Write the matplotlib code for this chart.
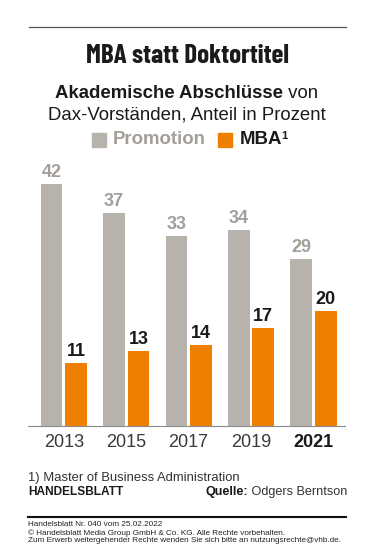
import numpy as np
import matplotlib.pyplot as plt

years = ['2013', '2015', '2017', '2019', '2021']
promotion = [42, 37, 33, 34, 29]
mba = [11, 13, 14, 17, 20]

GRAY = '#b7b2ab'
GRAY_TXT = '#a39e98'
ORANGE = '#ee7f00'
W, H = 375, 557
COND = ['Barlow Condensed', 'Roboto Condensed', 'Oswald', 'DejaVu Sans']

plt.rcParams['font.family'] = ['Liberation Sans', 'DejaVu Sans']

fig = plt.figure(figsize=(W / 100, H / 100), dpi=100)
fig.patch.set_facecolor('white')
r = fig.canvas.get_renderer()


def fx(x):
    return x / W


def fy(y):
    return 1 - y / H


def put(x, y, s, **kw):
    return fig.text(fx(x), fy(y), s, **kw)


def put_runs(x, y, runs, size=12):
    # several text pieces on one line, centred on x
    objs = []
    total = 0
    for s, kw in runs:
        t = fig.text(0, fy(y), s, va='center', ha='left', fontsize=size, **kw)
        objs.append(t)
        total += t.get_window_extent(r).width
    pos = x - total / 2
    for t in objs:
        t.set_x(fx(pos))
        pos += t.get_window_extent(r).width


# header
fig.add_artist(plt.Line2D([fx(29), fx(346)], [fy(27), fy(27)], color='#555555', lw=0.9))
put(187, 56, 'MBA statt Doktortitel', ha='center', va='center', fontsize=19.5,
    family=COND, weight='bold', color='#1a1a1a')
put_runs(187, 93, [('Akademische Abschlüsse', dict(weight='bold', color='#1a1a1a')),
                   (' von', dict(color='#1a1a1a'))], size=13.4)
put(187, 115, 'Dax-Vorständen, Anteil in Prozent', ha='center', va='center',
    fontsize=13.4, color='#1a1a1a')

# legend
fig.add_artist(plt.Rectangle((fx(92), fy(147)), 14 / W, 14 / H, color=GRAY))
put(113, 140, 'Promotion', va='center', fontsize=13.4, weight='bold', color=GRAY_TXT)
fig.add_artist(plt.Rectangle((fx(218), fy(147)), 14 / W, 14 / H, color=ORANGE))
m = put(240, 140, 'MBA', va='center', fontsize=13.4, weight='bold', color='#1a1a1a')
mw = m.get_window_extent(r).width
put(239 + mw, 136, '1', va='center', fontsize=8, weight='bold', color='#1a1a1a')

# bars
ax = fig.add_axes([fx(28), fy(426), (345 - 28) / W, (426 - 170) / H])
x = np.arange(len(years))
bw = 0.348
off = 0.196
ax.bar(x - off, promotion, bw, color=GRAY)
ax.bar(x + off, mba, bw, color=ORANGE)
for i in range(len(years)):
    ax.annotate(str(promotion[i]), (x[i] - off, promotion[i]), xytext=(0, 2),
                textcoords='offset points', ha='center', va='bottom',
                fontsize=13, weight='bold', color=GRAY_TXT)
    ax.annotate(str(mba[i]), (x[i] + off, mba[i]), xytext=(0, 2),
                textcoords='offset points', ha='center', va='bottom',
                fontsize=13, weight='bold', color='#1a1a1a')
ax.set_xlim(-0.574, 4.506)
ax.set_ylim(0, 256 / 5.77)
ax.set_xticks(x)
ax.set_xticklabels(years, fontsize=13, color='#3a3a3a')
ax.get_xticklabels()[-1].set_fontweight('bold')
ax.get_xticklabels()[-1].set_color('#1a1a1a')
ax.tick_params(axis='x', length=0, pad=6)
ax.set_yticks([])
for s in ['top', 'right', 'left']:
    ax.spines[s].set_visible(False)
ax.spines['bottom'].set_color('#8a8a8a')
ax.spines['bottom'].set_linewidth(0.8)
ax.set_facecolor('none')

# footer
put(28, 478, '1) Master of Business Administration', va='center', fontsize=9.4, color='#333333')
put(28, 492, 'HANDELSBLATT', va='center', fontsize=8.6, weight='bold', color='#1a1a1a')
q2 = put(347, 492, ' Odgers Berntson', ha='right', va='center', fontsize=9.1, color='#333333')
wq = q2.get_window_extent(r).width
put(347 - wq, 492, 'Quelle:', ha='right', va='center', fontsize=9.1, weight='bold', color='#1a1a1a')

fig.add_artist(plt.Line2D([fx(28), fx(346)], [fy(517), fy(517)], color='#111111', lw=1.5))
small = ['Handelsblatt Nr. 040 vom 25.02.2022',
         '© Handelsblatt Media Group GmbH & Co. KG. Alle Rechte vorbehalten.',
         'Zum Erwerb weitergehender Rechte wenden Sie sich bitte an nutzungsrechte@vhb.de.']
for k, line in enumerate(small):
    put(28, 525 + 7.8 * k, line, va='center', fontsize=5.9, color='#222222')

fig.savefig('out.png', dpi=100)
